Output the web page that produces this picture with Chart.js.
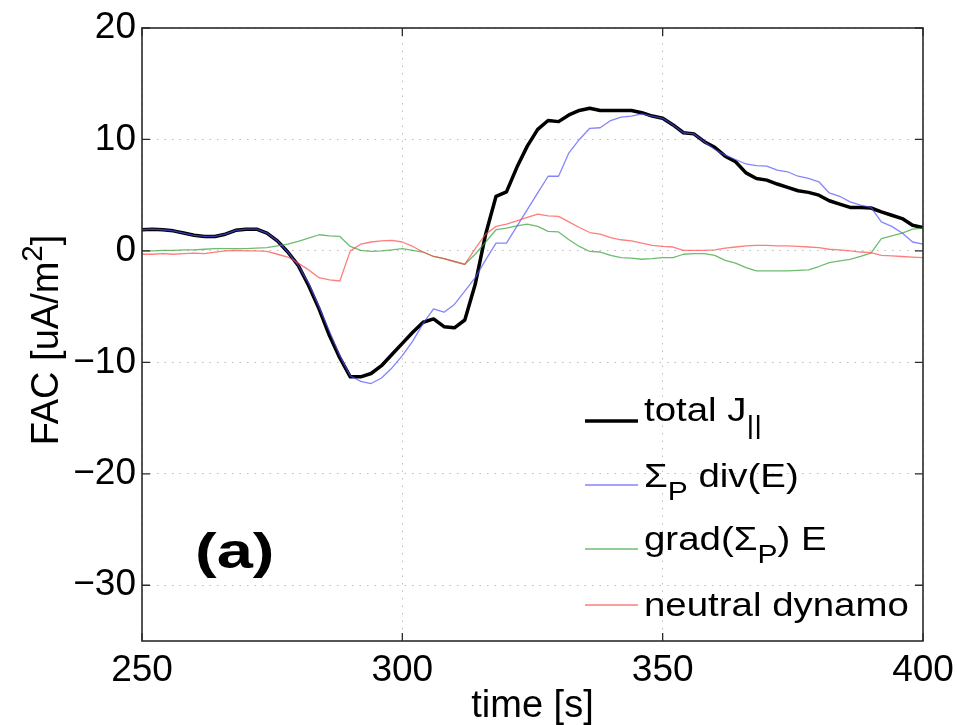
<!DOCTYPE html>
<html>
<head>
<meta charset="utf-8">
<script src="https://cdn.jsdelivr.net/npm/chart.js"></script>
<style>
  body { margin: 0; background: #fff; }
  #wrap { width: 957px; height: 725px; }
</style>
</head>
<body>
<div id="wrap"><canvas id="fac"></canvas></div>
<script>
// time axis [s]
const times = [
  250, 252, 254, 256, 258, 260, 262, 264, 266, 268,
  270, 272, 274, 276, 278, 280, 282, 284, 286, 288,
  290, 292, 294, 296, 298, 300, 302, 304, 306, 308,
  310, 312, 314, 316, 318, 320, 322, 324, 326, 328,
  330, 332, 334, 336, 338, 340, 342, 344, 346, 348,
  350, 352, 354, 356, 358, 360, 362, 364, 366, 368,
  370, 372, 374, 376, 378, 380, 382, 384, 386, 388,
  390, 392, 394, 396, 398, 400
]

// FAC [uA/m2]
const totalJ = [
  1.9, 1.95, 1.9, 1.8, 1.6, 1.4, 1.3, 1.3, 1.5, 1.85,
  1.95, 1.95, 1.6, 0.9, -0.1, -1.3, -3.1, -5.2, -7.6, -9.6,
  -11.3, -11.3, -11.0, -10.3, -9.3, -8.3, -7.3, -6.4, -6.1, -6.8,
  -6.9, -6.2, -3.0, 1.5, 4.9, 5.3, 7.5, 9.4, 10.9, 11.7,
  11.6, 12.2, 12.6, 12.8, 12.6, 12.6, 12.6, 12.6, 12.4, 12.1,
  11.9, 11.3, 10.6, 10.5, 9.8, 9.3, 8.5, 8.0, 7.0, 6.5,
  6.35, 6.0, 5.7, 5.4, 5.25, 5.0, 4.5, 4.2, 3.9, 3.9,
  3.85, 3.5, 3.2, 2.9, 2.3, 2.1
]
const sigmaDivE = [
  1.9, 1.95, 1.9, 1.8, 1.6, 1.4, 1.3, 1.3, 1.5, 1.85,
  1.95, 1.95, 1.6, 0.9, -0.1, -1.3, -2.9, -5.0, -7.2, -9.4,
  -11.2, -11.7, -11.9, -11.4, -10.5, -9.4, -8.1, -6.5, -5.2, -5.5,
  -4.8, -3.6, -2.4, -0.8, 0.7, 0.7, 2.2, 3.7, 5.2, 6.7,
  6.7, 8.8, 10.0, 11.0, 11.05, 11.7, 12.0, 12.1, 12.3, 12.1,
  11.9, 11.3, 10.6, 10.5, 9.8, 9.1, 8.6, 8.2, 7.8, 7.65,
  7.6, 7.25, 7.1, 6.7, 6.5, 6.2, 5.2, 4.9, 4.4, 4.1,
  3.9, 2.6, 2.2, 1.6, 0.8, 0.6
]
const gradSigmaE = [
  0.0, 0.0, 0.05, 0.05, 0.1, 0.1, 0.15, 0.2, 0.2, 0.2,
  0.2, 0.25, 0.3, 0.45, 0.6, 0.85, 1.15, 1.45, 1.35, 1.3,
  0.4, 0.05, -0.05, 0.0, 0.1, 0.2, 0.05, -0.1, -0.5, -0.7,
  -0.95, -1.2, -0.3, 0.8, 1.9, 2.05, 2.25, 2.4, 2.2, 1.75,
  1.7, 1.0, 0.4, -0.05, -0.1, -0.4, -0.6, -0.65, -0.75, -0.7,
  -0.6, -0.6, -0.3, -0.25, -0.25, -0.4, -0.85, -1.1, -1.5, -1.8,
  -1.8, -1.8, -1.8, -1.75, -1.7, -1.4, -1.05, -0.9, -0.75, -0.5,
  -0.2, 1.1, 1.35, 1.6, 1.95, 2.05
]
const neutralDynamo = [
  -0.3, -0.3, -0.25, -0.3, -0.25, -0.2, -0.25, -0.1, 0.0, 0.05,
  0.0, 0.0, -0.05, -0.3, -0.55, -1.1, -1.7, -2.4, -2.6, -2.7,
  0.0, 0.6, 0.8, 0.9, 0.95, 0.8, 0.4, -0.1, -0.5, -0.7,
  -0.95, -1.2, 0.2, 1.5, 2.2, 2.4, 2.7, 3.0, 3.3, 3.15,
  3.1, 2.6, 2.1, 1.65, 1.5, 1.2, 1.0, 0.9, 0.7, 0.5,
  0.4, 0.35, 0.05, 0.05, 0.05, 0.1, 0.25, 0.35, 0.45, 0.5,
  0.5, 0.45, 0.45, 0.4, 0.35, 0.3, 0.15, 0.1, 0.0, -0.1,
  -0.15, -0.4, -0.45, -0.5, -0.55, -0.6
]

const xTicks = [250, 300, 350, 400]
const yTicks = [-30, -20, -10, 0, 10, 20]

const seriesNames = ['total J||', 'ΣP div(E)', 'grad(ΣP) E', 'neutral dynamo']
// legend text with subscripts
const legendRuns = [
  [{ t: 'total J' }, { t: '||', sub: true }],
  [{ t: 'Σ' }, { t: 'P', sub: true }, { t: ' div(E)' }],
  [{ t: 'grad(Σ' }, { t: 'P', sub: true }, { t: ') E' }],
  [{ t: 'neutral dynamo' }]
]

const FONT = "'Liberation Sans', Arial, Helvetica, sans-serif"

function pts(vals) {
  return vals.map((v, i) => ({ x: times[i], y: v }))
}

function drawRuns(ctx, x, y, runs, size) {
  for (const r of runs) {
    let s = r.sub || r.sup ? size * 0.78 : size
    ctx.font = `${s}px ${FONT}`
    let dy = r.sub ? size * 0.38 : (r.sup ? -size * 0.42 : 0)
    ctx.fillText(r.t, x, y + dy)
    x += ctx.measureText(r.t).width
  }
  return x
}

function runsWidth(ctx, runs, size) {
  let w = 0
  for (const r of runs) {
    ctx.font = `${r.sub || r.sup ? size * 0.78 : size}px ${FONT}`
    w += ctx.measureText(r.t).width
  }
  return w
}

const decor = {
  id: 'decor',
  afterDatasetsDraw(chart) {
    const ctx = chart.ctx
    const a = chart.chartArea
    const xs = chart.scales.x
    const ys = chart.scales.y
    ctx.save()
    // frame
    ctx.strokeStyle = '#2b2b2b'
    ctx.lineWidth = 1.6
    ctx.strokeRect(a.left, a.top, a.right - a.left, a.bottom - a.top)
    // inward ticks on all four sides
    ctx.lineWidth = 1.3
    ctx.beginPath()
    for (const v of xTicks) {
      const px = xs.getPixelForValue(v)
      ctx.moveTo(px, a.bottom); ctx.lineTo(px, a.bottom - 8)
      ctx.moveTo(px, a.top); ctx.lineTo(px, a.top + 8)
    }
    for (const v of yTicks) {
      const py = ys.getPixelForValue(v)
      ctx.moveTo(a.left, py); ctx.lineTo(a.left + 8, py)
      ctx.moveTo(a.right, py); ctx.lineTo(a.right - 8, py)
    }
    ctx.stroke()

    // legend
    ctx.fillStyle = '#000'
    ctx.textBaseline = 'alphabetic'
    ctx.textAlign = 'left'
    const base = [421, 487, 550, 616]
    const lineY = [421, 485, 549, 605]
    chart.data.datasets.forEach((ds, i) => {
      ctx.strokeStyle = ds.borderColor
      ctx.lineWidth = ds.borderWidth
      ctx.beginPath()
      ctx.moveTo(585, lineY[i])
      ctx.lineTo(638, lineY[i])
      ctx.stroke()
      ctx.save()
      ctx.translate(644, base[i])
      ctx.scale(1.13, 1)
      drawRuns(ctx, 0, 0, legendRuns[i], 34)
      ctx.restore()
    })

    // panel label
    ctx.save()
    ctx.font = `bold 50px ${FONT}`
    ctx.translate(195, 568)
    ctx.scale(1.3, 1)
    ctx.fillText('(a)', 0, 0)
    ctx.restore()

    // x title
    ctx.font = `38px ${FONT}`
    ctx.textAlign = 'center'
    ctx.fillText('time [s]', (a.left + a.right) / 2, 717)

    // y title (rotated, with superscript)
    ctx.translate(58, 340)
    ctx.rotate(-Math.PI / 2)
    ctx.textAlign = 'left'
    const yRuns = [{ t: 'FAC [uA/m' }, { t: '2', sup: true }, { t: ']' }]
    const w = runsWidth(ctx, yRuns, 38)
    drawRuns(ctx, -w / 2, 0, yRuns, 38)
    ctx.restore()
  }
}

new Chart(document.getElementById('fac'), {
  type: 'line',
  data: {
    datasets: [
      { label: seriesNames[0], data: pts(totalJ), borderColor: '#000000', borderWidth: 3.5, order: 4 },
      { label: seriesNames[1], data: pts(sigmaDivE), borderColor: 'rgba(80,80,255,0.7)', borderWidth: 1.3, order: 3 },
      { label: seriesNames[2], data: pts(gradSigmaE), borderColor: 'rgba(50,160,50,0.7)', borderWidth: 1.3, order: 2 },
      { label: seriesNames[3], data: pts(neutralDynamo), borderColor: 'rgba(255,70,70,0.7)', borderWidth: 1.3, order: 1 }
    ]
  },
  options: {
    responsive: true,
    maintainAspectRatio: false,
    animation: false,
    devicePixelRatio: 1,
    elements: { point: { radius: 0 }, line: { tension: 0, borderJoinStyle: 'round' } },
    layout: { padding: { top: 28, right: 34, left: 0, bottom: 0 } },
    plugins: { legend: { display: false }, tooltip: { enabled: false } },
    scales: {
      x: {
        type: 'linear',
        min: 250,
        max: 400,
        afterBuildTicks: s => { s.ticks = xTicks.map(v => ({ value: v })) },
        afterFit: s => { s.height = 84; s.paddingLeft = 0; s.paddingRight = 0 },
        grid: { color: '#bdbdbd', lineWidth: 1, drawTicks: false },
        border: { display: false, dash: [1.5, 6] },
        ticks: { color: '#000', padding: 8, maxRotation: 0, font: { family: FONT, size: 37 } }
      },
      y: {
        min: -35,
        max: 20,
        afterBuildTicks: s => { s.ticks = yTicks.map(v => ({ value: v })) },
        afterFit: s => { s.width = 142; s.paddingTop = 0; s.paddingBottom = 0 },
        grid: { color: '#bdbdbd', lineWidth: 1, drawTicks: false },
        border: { display: false, dash: [1.5, 6] },
        ticks: {
          color: '#000',
          padding: 6,
          font: { family: FONT, size: 37 },
          callback: v => String(v).replace('-', '\u2212')
        }
      }
    }
  },
  plugins: [decor]
})
</script>
</body>
</html>
